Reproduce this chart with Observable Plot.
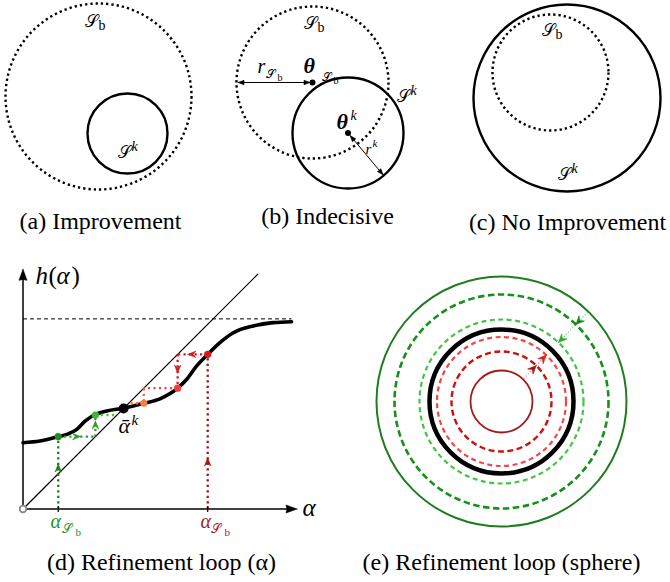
<!DOCTYPE html>
<html>
<head>
<meta charset="utf-8">
<script src="https://cdn.jsdelivr.net/npm/d3@7"></script>
<script src="https://cdn.jsdelivr.net/npm/@observablehq/plot@0.6"></script>
<style>
html,body{margin:0;padding:0;background:#fff;}
#chart{width:670px;height:582px;}
</style>
</head>
<body>
<div id="chart"></div>
<script>
// ======================= DATA =======================
const captionText = ["(a) Improvement", "(b) Indecisive", "(c) No Improvement", "(d) Refinement loop (α)", "(e) Refinement loop (sphere)"];
const captionPanel = ["a", "b", "c", "d", "e"];

// (a)-(c): sets S_b (dotted) and S^k (solid): centre offsets and radii, panel units
const setPanel = ["a", "a", "b", "b", "c", "c"];
const setName  = ["Sb", "Sk", "Sb", "Sk", "Sb", "Sk"];
const setCx    = [0, 29, 0, 35.5, -16.5, 0];
const setCy    = [0, 37, 0, 50.5, -25.5, 0];
const setR     = [93, 40, 76, 55.5, 58, 93.5];
const rkAngleDeg = 50;           // direction of the r^k radius in (b)

// (d): fixed-point map h(alpha)
const curveAlpha = [0, 0.072, 0.150, 0.193, 0.229, 0.264, 0.303, 0.356, 0.427, 0.515, 0.583, 0.658, 0.697, 0.739, 0.786, 0.838, 0.895, 0.980, 1.065, 1.143];
const curveH     = [0.282, 0.289, 0.308, 0.320, 0.339, 0.374, 0.400, 0.417, 0.429, 0.450, 0.469, 0.514, 0.552, 0.609, 0.658, 0.708, 0.750, 0.779, 0.793, 0.797];
const fixedAlpha = 0.428;
const hLimit     = 0.809;
const greenIter  = [0.150, 0.308, 0.400];          // alpha iterates from green alpha_Sb
const redIter    = [0.786, 0.658, 0.514, 0.450];   // alpha iterates from red alpha_Sb
const axisMax    = [1.166, 1.02];                  // x / y axis extents
const diagMax    = 1.0;

// (e): concentric spheres, radii (outer green ... inner red)
const ringName = ["green start", "green iter 1", "green iter 2", "S^k", "red iter 2", "red iter 1", "red start"];
const ringR    = [125, 107, 82, 72, 64.5, 50, 31];
const sphereArrowDeg = 46;

// ======================= LAYOUT / STYLE =======================
const W = 670, H = 582;
const frame = {
  a: {ox: 98,    oy: 96,    k: 1,   s: 1},
  b: {ox: 312,   oy: 82,    k: 1,   s: 1},
  c: {ox: 566.5, oy: 97.5,  k: 1,   s: 1},
  d: {ox: 22.5,  oy: 508.5, k: 235, s: -1},
  e: {ox: 501,   oy: 401,   k: 1,   s: 1}
};
const PX = (p, u) => frame[p].ox + u * frame[p].k;
const PY = (p, v) => frame[p].oy + v * frame[p].k * frame[p].s;

const captionX = {a: 100, b: 327, c: 567, d: 161, e: 501};
const captionY = {a: 228, b: 223, c: 229, d: 569, e: 569};

const serif = "Liberation Serif";
const scriptFont = "Liberation Serif, DejaVu Serif, DejaVu Sans";

const greenSegColor = ["#17801a", "#2a9d2a", "#2a9d2a", "#4cbf4c"];
const greenArrowAt  = [0.62, 0.6, 0.72, null];
const greenDotColor = ["#1f8f1f", "#3cb43c"];
const redSegColor   = ["#a01515", "#d41c1c", "#d41c1c", "#ee4646", "#f06a4a", "#f07a45"];
const redArrowAt    = [0.33, 0.66, 0.55, null, null, null];
const redDotColor   = ["#d81818", "#ef3c3c", "#f67b45"];

const ringColor = ["#1e7d1e", "#16901a", "#44c444", "#000000", "#f04848", "#cc1111", "#a31a1a"];
const ringWidth = [2, 2.6, 2.2, 4.5, 2.2, 2.4, 1.8];
const ringDash  = [null, "6.5,3.5", "5,3.5", null, "5,3.5", "6,3.5", null];

// ======================= BUILD =======================
const heads = [];
let headId = 0;
function head(tx, ty, ang, L, Wd, notch, color) {
  const c = Math.cos(ang), s = Math.sin(ang);
  const bx = tx - L * c, by = ty - L * s, nx = -s, ny = c;
  const pts = [[tx, ty], [bx + Wd / 2 * nx, by + Wd / 2 * ny], [tx - L * (1 - notch) * c, ty - L * (1 - notch) * s], [bx - Wd / 2 * nx, by - Wd / 2 * ny], [tx, ty]];
  const id = headId++;
  pts.forEach(([x, y]) => heads.push({id, x, y, color}));
}

// sets (a)-(c)
const sets = setName.map((n, i) => ({name: n, x: PX(setPanel[i], setCx[i]), y: PY(setPanel[i], setCy[i]), r: setR[i] * frame[setPanel[i]].k}));

// (b) radius arrows
const bSb = sets[2], bSk = sets[3];
const links = [];
links.push({x1: bSb.x - 2.5, y1: bSb.y, x2: bSb.x - bSb.r + 1.5, y2: bSb.y});
head(bSb.x - bSb.r + 1.5, bSb.y, Math.PI, 6, 4.5, 0, "#000");
head(bSb.x - 2.5, bSb.y, 0, 6, 4.5, 0, "#000");
const ra = rkAngleDeg * Math.PI / 180;
links.push({x1: bSk.x + 3.5 * Math.cos(ra), y1: bSk.y + 3.5 * Math.sin(ra), x2: bSk.x + (bSk.r - 1) * Math.cos(ra), y2: bSk.y + (bSk.r - 1) * Math.sin(ra)});
head(bSk.x + 3.5 * Math.cos(ra), bSk.y + 3.5 * Math.sin(ra), ra + Math.PI, 6, 4.5, 0, "#000");
head(bSk.x + (bSk.r - 1) * Math.cos(ra), bSk.y + (bSk.r - 1) * Math.sin(ra), ra, 6, 4.5, 0, "#000");
const centres = [{x: bSb.x, y: bSb.y}, {x: bSk.x, y: bSk.y}];

// (d)
const curve = curveAlpha.map((a, i) => ({x: PX("d", a), y: PY("d", curveH[i])}));
function cobweb(iter, segColor, arrowAt) {
  const segs = [{a1: iter[0], h1: 0, a2: iter[0], h2: iter[1]}];
  for (let i = 0; i + 1 < iter.length; i++) {
    segs.push({a1: iter[i], h1: iter[i + 1], a2: iter[i + 1], h2: iter[i + 1]});
    if (i + 2 < iter.length) segs.push({a1: iter[i + 1], h1: iter[i + 1], a2: iter[i + 1], h2: iter[i + 2]});
  }
  return segs.map((s, j) => {
    const o = {x1: PX("d", s.a1), y1: PY("d", s.h1), x2: PX("d", s.a2), y2: PY("d", s.h2), color: segColor[j]};
    if (arrowAt[j] != null) {
      const f = arrowAt[j];
      const ang = Math.atan2(o.y2 - o.y1, o.x2 - o.x1);
      head(o.x1 + f * (o.x2 - o.x1), o.y1 + f * (o.y2 - o.y1), ang, 8, 6.5, 0.35, segColor[j]);
    }
    return o;
  });
}
const webs = [...cobweb(greenIter, greenSegColor, greenArrowAt), ...cobweb(redIter, redSegColor, redArrowAt)];
const webDots = [
  ...greenIter.slice(0, -1).map((a, i) => ({x: PX("d", a), y: PY("d", greenIter[i + 1]), color: greenDotColor[i]})),
  ...redIter.slice(0, -1).map((a, i) => ({x: PX("d", a), y: PY("d", redIter[i + 1]), color: redDotColor[i]}))
];
const axes = [
  {x1: PX("d", 0), y1: PY("d", 0), x2: PX("d", axisMax[0]) - 9, y2: PY("d", 0)},
  {x1: PX("d", 0), y1: PY("d", 0), x2: PX("d", 0), y2: PY("d", axisMax[1]) + 9}
];
head(PX("d", axisMax[0]), PY("d", 0), 0, 11, 8, 0.08, "#000");
head(PX("d", 0), PY("d", axisMax[1]), -Math.PI / 2, 11, 8, 0.08, "#000");
const diag = [{x1: PX("d", 0), y1: PY("d", 0), x2: PX("d", diagMax), y2: PY("d", diagMax)}];
const limitLine = [{x1: PX("d", 0), y1: PY("d", hLimit), x2: PX("d", curveAlpha[curveAlpha.length - 1]), y2: PY("d", hLimit)}];
const ticks = [greenIter[0], redIter[0]].map(a => ({x1: PX("d", a), y1: PY("d", 0) - 3, x2: PX("d", a), y2: PY("d", 0) + 3}));

// (e)
const rings = ringR.map((r, i) => ({x: PX("e", 0), y: PY("e", 0), r, i}));
const sa = -sphereArrowDeg * Math.PI / 180;
const ce = {x: PX("e", 0), y: PY("e", 0)};
const onRay = r => ({x: ce.x + r * Math.cos(sa), y: ce.y + r * Math.sin(sa)});
const seg = (p, q, color) => ({x1: p.x, y1: p.y, x2: q.x, y2: q.y, color});
const rayLines = [
  seg(onRay(ringR[0] - 1), onRay(ringR[2] + 1), "#6cc06c"),
  seg(onRay(ringR[6] + 1), onRay(ringR[4] - 1), "#e07070")
];
[[1, "#16801a"], [2, "#2aaa2a"]].forEach(([i, col]) => { const p = onRay(ringR[i]); head(p.x, p.y, sa + Math.PI, 8.5, 7.5, 0.35, col); });
[[5, "#a01515"], [4, "#d82020"]].forEach(([i, col]) => { const p = onRay(ringR[i]); head(p.x, p.y, sa, 8.5, 7.5, 0.35, col); });

// ======================= TEXT =======================
const captions = captionText.map((t, i) => ({t, x: captionX[captionPanel[i]], y: captionY[captionPanel[i]]}));
// [text, x, baseline y, size, colour]
const scriptLabels = [
  ["𝒮", 84, 26, 17, "#000"], ["𝒮", 117, 157, 17, "#000"],
  ["𝒮", 303, 28, 17, "#000"], ["𝒮", 396, 101, 17, "#000"],
  ["𝒮", 541, 35, 17, "#000"], ["𝒮", 557, 179, 17, "#000"],
  ["𝒮", 321, 80, 12, "#000"], ["𝒮", 265, 77, 12, "#000"],
  ["𝒮", 61, 532, 13, "#1f8f1f"], ["𝒮", 210, 532, 13, "#a01818"]
];
const uprightLabels = [
  ["b", 98, 29, 14, "#000"], ["b", 317, 31, 14, "#000"], ["b", 555, 38, 14, "#000"],
  ["b", 333, 83, 10, "#000"], ["b", 277, 80, 10, "#000"],
  ["b", 75, 535, 11, "#1f8f1f"], ["b", 224, 535, 11, "#a01818"],
  ["(", 48, 283, 25, "#000"], [")", 71, 283, 25, "#000"]
];
const italicLabels = [
  ["k", 131, 150, 14, "#000"], ["k", 410, 94, 14, "#000"], ["k", 350, 119, 14, "#000"],
  ["r", 365, 153, 15, "#000"], ["k", 372, 146, 11, "#000"], ["k", 571, 172, 14, "#000"],
  ["r", 257, 72, 20, "#000"],
  ["h", 35, 283, 25, "#000"], ["α", 56, 283, 25, "#000"], ["α", 302, 515, 25, "#000"],
  ["α", 50, 527, 20, "#1f8f1f"], ["α", 200, 527, 20, "#a01818"],
  ["ᾱ", 118, 432, 22, "#000"], ["k", 131, 424, 15, "#000"]
];
const boldLabels = [["θ", 303, 72, 22, "#000"], ["θ", 336, 128, 22, "#000"]];
const rowsOf = arr => arr.map(([t, x, y, s, c]) => ({t, x, y, s, c}));
// one text mark per colour so that every label gets a constant fill
const textMarks = (arr, opts) => [...new Set(arr.map(d => d[4]))].map(col =>
  Plot.text(rowsOf(arr.filter(d => d[4] === col)), {x: "x", y: "y", text: "t", fontSize: "s", fill: col, textAnchor: "start", lineAnchor: "bottom", ...opts}));

// ======================= PLOT =======================
const marks = [
  // (a)-(c)
  Plot.dot(sets.filter(d => d.name === "Sb"), {x: "x", y: "y", r: "r", fill: "none", stroke: "#000", strokeWidth: 2.4, strokeDasharray: "2.3,3"}),
  Plot.dot(sets.filter(d => d.name === "Sk"), {x: "x", y: "y", r: "r", fill: "none", stroke: "#000", strokeWidth: 2.4}),
  Plot.link(links, {x1: "x1", y1: "y1", x2: "x2", y2: "y2", stroke: "#000", strokeWidth: 1}),
  Plot.dot(centres, {x: "x", y: "y", r: 3, fill: "#000"}),
  // (d)
  Plot.link(axes, {x1: "x1", y1: "y1", x2: "x2", y2: "y2", stroke: "#000", strokeWidth: 1.5}),
  Plot.link(limitLine, {x1: "x1", y1: "y1", x2: "x2", y2: "y2", stroke: "#000", strokeWidth: 1, strokeDasharray: "4,3"}),
  Plot.link(diag, {x1: "x1", y1: "y1", x2: "x2", y2: "y2", stroke: "#000", strokeWidth: 1.2}),
  Plot.line(curve, {x: "x", y: "y", curve: "monotone-x", stroke: "#000", strokeWidth: 3.6}),
  Plot.link(webs, {x1: "x1", y1: "y1", x2: "x2", y2: "y2", stroke: "color", strokeWidth: 2.3, strokeDasharray: "2.2,3.3"}),
  Plot.link(ticks, {x1: "x1", y1: "y1", x2: "x2", y2: "y2", stroke: "#000", strokeWidth: 1.2}),
  Plot.dot(webDots, {x: "x", y: "y", r: 3.6, fill: "color"}),
  Plot.dot([{x: PX("d", fixedAlpha), y: PY("d", fixedAlpha)}], {x: "x", y: "y", r: 5, fill: "#000"}),
  Plot.dot([{x: PX("d", 0), y: PY("d", 0)}], {x: "x", y: "y", r: 3.3, fill: "#fff", stroke: "#888", strokeWidth: 1.8}),
  // (e)
  ...rings.map((d, i) => Plot.dot([d], {x: "x", y: "y", r: "r", fill: "none", stroke: ringColor[i], strokeWidth: ringWidth[i], strokeDasharray: ringDash[i] || undefined})),
  Plot.link(rayLines, {x1: "x1", y1: "y1", x2: "x2", y2: "y2", stroke: "color", strokeWidth: 1.2, strokeDasharray: "1,2"}),
  // arrowheads
  Plot.line(heads, {x: "x", y: "y", z: "id", fill: "color", stroke: "color", strokeWidth: 0.6, curve: "linear"}),
  // text
  Plot.text(captions, {x: "x", y: "y", text: "t", fontSize: 24, fontFamily: serif, textAnchor: "middle", lineAnchor: "bottom", fill: "#000"}),
  ...textMarks(scriptLabels, {fontFamily: scriptFont, fontStyle: "normal"}),
  ...textMarks(uprightLabels, {fontFamily: serif}),
  ...textMarks(italicLabels, {fontFamily: serif, fontStyle: "italic"}),
  ...textMarks(boldLabels, {fontFamily: serif, fontStyle: "italic", fontWeight: "bold"})
];

const chart = Plot.plot({
  width: W, height: H, margin: 0,
  x: {domain: [0, W], range: [0, W], axis: null},
  y: {domain: [0, H], range: [0, H], axis: null},
  r: {type: "identity"},
  color: {type: "identity"},
  style: {background: "#fff", overflow: "visible"},
  marks
});
document.getElementById("chart").appendChild(chart);
</script>
</body>
</html>
